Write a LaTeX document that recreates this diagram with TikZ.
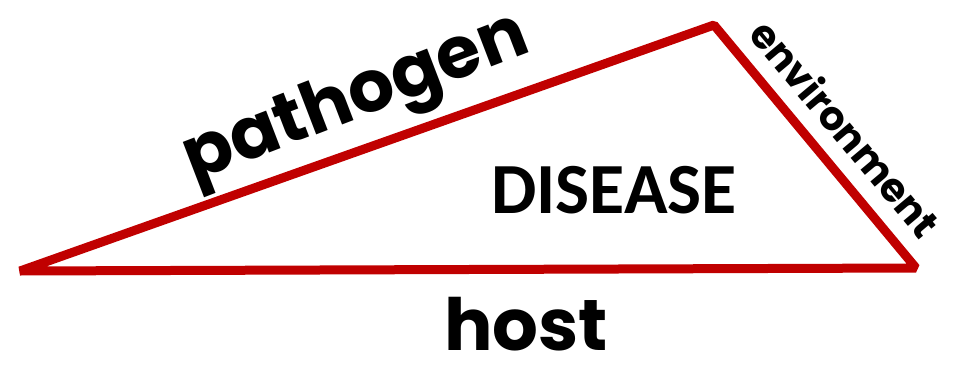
\documentclass[tikz,border=0pt]{standalone}
\usepackage{fontspec}
\setmainfont{Poppins}
\newfontfamily\calib{Carlito}
\usepackage{xcolor}
\usetikzlibrary{positioning,calc}
\definecolor{edgered}{RGB}{192,0,0}

\begin{document}
\begin{tikzpicture}[x=1pt,y=-1pt,
  side/.style={draw=edgered, line width=9pt, line join=bevel},
  lbl/.style={font=\bfseries, inner sep=0pt, text=black},
  core/.style={font=\calib\bfseries, inner sep=0pt, text=black}
]
  \useasboundingbox (0,0) rectangle (957,369);
  \coordinate (hl) at (20,271);
  \coordinate (pt) at (714,25);
  \coordinate (er) at (916,268);

  \draw[side] (hl) -- (pt) -- (er) -- cycle;

  \node[lbl, rotate=21, font=\fontsize{72}{72}\bfseries] (path) at (357,101) {pathogen};
  \node[lbl, rotate=-50, font=\fontsize{40}{40}\bfseries] (env) at (846,128) {environment};
  \node[lbl, font=\fontsize{72}{72}\bfseries] (host) at (526,324) {host};
  \node[core, font=\calib\fontsize{72}{72}\bfseries] (dis) at (614,190) {DISEASE};
\end{tikzpicture}
\end{document}
